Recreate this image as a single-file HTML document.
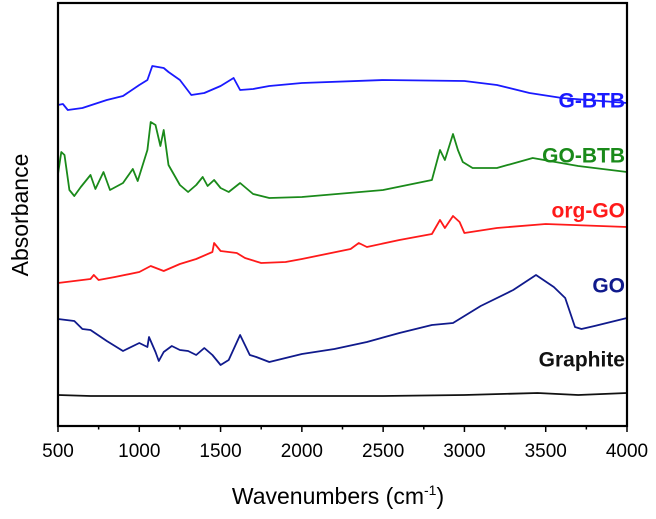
<!DOCTYPE html>
<html><head><meta charset="utf-8"><style>
body{margin:0;background:#fff;}
svg{display:block;font-family:"Liberation Sans",Arial,sans-serif;}
</style></head><body>
<svg id="chart" width="656" height="519">
<g id="plot"></g>
<g id="xaxis"></g>
<text x="22" y="215" transform="rotate(-90 22 215)" text-anchor="middle" dominant-baseline="middle" font-size="23">Absorbance</text>
<text x="338" y="504" text-anchor="middle" font-size="23">Wavenumbers (cm<tspan dy="-9" font-size="14">-1</tspan><tspan dy="9">)</tspan></text>
</svg>
<script>
const xTicks=[500,1000,1500,2000,2500,3000,3500,4000];
const seriesNames=["G-BTB","GO-BTB","org-GO","GO","Graphite"];
const seriesColors=["#1a1aff","#1a8a1a","#ff1a1a","#101a8c","#111111"];
const gbtbX=[500,530,560,650,800,900,1000,1050,1080,1150,1180,1250,1320,1400,1500,1580,1620,1700,1800,2000,2500,3000,3200,3400,3600,4000];
const gbtbY=[321,322,316,318,326,330,341,346,360,358,354,346,331,333,340,348,336,337,340,343,346,345,341,333,328,323];
const gobtbX=[500,520,540,570,600,640,700,730,780,820,900,960,990,1050,1070,1100,1130,1150,1180,1250,1300,1350,1390,1420,1460,1500,1550,1620,1700,1800,2000,2500,2800,2850,2880,2930,2960,2990,3050,3200,3420,3700,4000];
const gobtbY=[252,274,271,236,230,239,251,237,254,236,243,257,245,276,304,301,280,296,261,241,234,241,249,240,246,238,234,243,232,228,229,236,246,276,266,292,276,264,258,258,268,260,254];
const orggoX=[500,700,720,750,850,1000,1070,1150,1250,1350,1450,1460,1500,1600,1650,1750,1900,2000,2300,2350,2400,2600,2800,2850,2880,2930,2970,3000,3200,3500,4000];
const orggoY=[143,147,151,146,149,154,160,155,162,167,174,183,175,173,168,163,164,167,177,183,179,186,192,206,198,210,204,193,198,202,199];
const goX=[500,600,650,700,800,900,1000,1050,1060,1100,1120,1150,1200,1250,1300,1350,1400,1450,1500,1550,1620,1680,1720,1800,2000,2200,2400,2600,2800,2930,3100,3300,3440,3550,3620,3680,3720,3800,4000];
const goY=[107,105,97,96,85,75,83,79,89,74,65,74,80,76,75,71,78,71,61,66,91,71,69,64,72,77,84,93,101,103,120,136,151,139,128,99,97,100,108];
const graphX=[500,700,1000,1500,2000,2500,3000,3450,3700,4000];
const graphY=[31,30,30,30,30,30,31,33,31,33];
const allX=[gbtbX,gobtbX,orggoX,goX,graphX];
const allY=[gbtbY,gobtbY,orggoY,goY,graphY];
const labelY=[324,269,214,139,65];

const L=58,R=627,T=3,B=426;
const xs=v=>L+(v-500)/3500*(R-L);
const ys=v=>B-v/423*(B-T);
const NS="http://www.w3.org/2000/svg";
const plot=document.getElementById('plot');
const xa=document.getElementById('xaxis');
function mk(tag,attrs,parent){const e=document.createElementNS(NS,tag);for(const k in attrs)e.setAttribute(k,attrs[k]);parent.appendChild(e);return e;}
for(let i=0;i<seriesNames.length;i++){
  const d=allX[i].map((x,j)=>(j?'L':'M')+xs(x).toFixed(1)+','+ys(allY[i][j]).toFixed(1)).join('');
  const p=mk('path',{d:d,fill:'none',stroke:seriesColors[i],'stroke-width':1.8,'stroke-linejoin':'round'},plot);
  
  
  const t=mk('text',{x:625,y:ys(labelY[i]),'text-anchor':'end','dominant-baseline':'middle','font-size':21,'font-weight':'bold',fill:seriesColors[i]},plot);
  t.textContent=seriesNames[i];
  
  
}
const fr=mk('rect',{x:L,y:T,width:R-L,height:B-T,fill:'none',stroke:'#000','stroke-width':2.2},plot);


for(let v=500;v<=4000;v+=250){
  const major=(v%500===0);
  mk('line',{x1:xs(v),x2:xs(v),y1:B,y2:B+(major?6:3.5),stroke:'#000','stroke-width':1.5},xa);
}
xTicks.forEach(v=>{
  const t=mk('text',{x:xs(v),y:457,'text-anchor':'middle','font-size':19},xa);
  t.textContent=v;
  
  
});
</script>
</body></html>
